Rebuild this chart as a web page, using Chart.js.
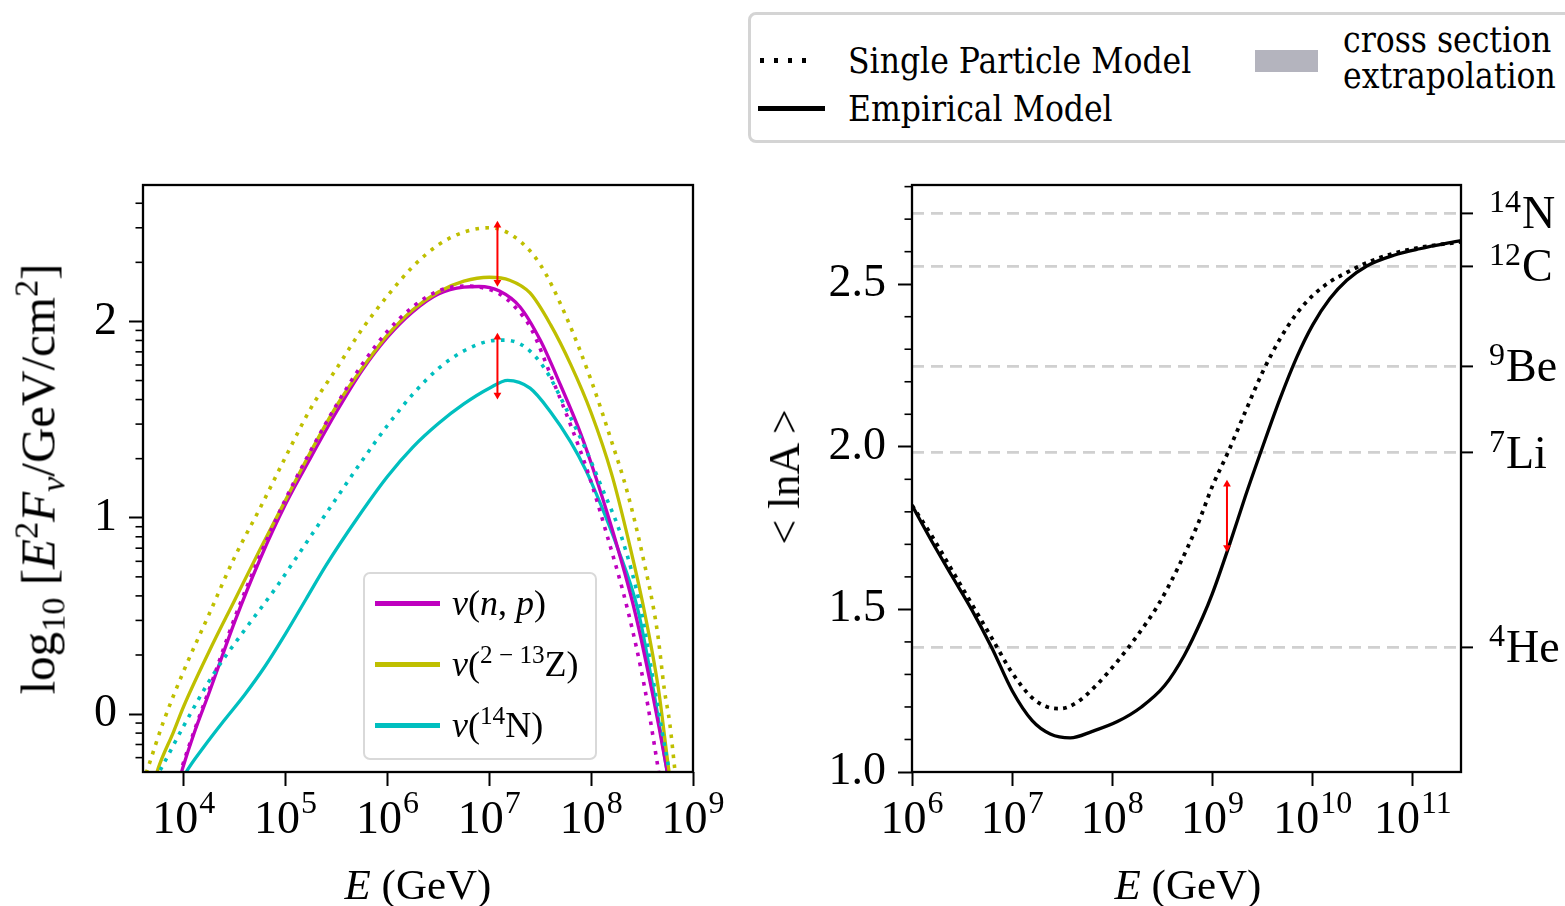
<!DOCTYPE html>
<html>
<head>
<meta charset="utf-8">
<title>Neutrino flux and mean log mass</title>
<script src="https://cdn.jsdelivr.net/npm/chart.js@4.4.1/dist/chart.umd.min.js"></script>
<style>
html,body{margin:0;padding:0;background:#fff;}
body{position:relative;width:1565px;height:906px;overflow:hidden;}
canvas{position:absolute;}
#cL{left:0;top:150px;}
#cR{left:740px;top:150px;}
.serif{font-family:"Liberation Serif","Times New Roman",serif;color:#000;}
.abs{position:absolute;white-space:nowrap;line-height:1;}
.ctr{transform:translate(-50%,-50%);}
.rot{transform:translate(-50%,-50%) rotate(-90deg);}
#legL{position:absolute;left:363px;top:572px;width:234px;height:188px;box-sizing:border-box;border:2px solid #d9d9d9;border-radius:7px;background:rgba(255,255,255,0.85);}
.sw{position:absolute;height:5px;}
.lt{position:absolute;font-size:36px;transform:translateY(-50%);white-space:nowrap;line-height:1;}
#legT{position:absolute;left:748px;top:12px;width:840px;height:131px;box-sizing:border-box;border:3px solid #d4d4d4;border-radius:8px;background:#fff;}
.tl{font-family:"DejaVu Serif Condensed","DejaVu Serif",serif;font-stretch:condensed;font-size:35px;position:absolute;white-space:nowrap;line-height:1;transform:translateY(-50%);color:#000;}
sup{font-size:0.7em;vertical-align:0.5em;line-height:0;}
sub{font-size:0.7em;vertical-align:-0.3em;line-height:0;}
</style>
</head>
<body>
<canvas id="cL" width="730" height="756"></canvas>
<canvas id="cR" width="825" height="756"></canvas>

<div id="legL"></div>

<div id="legT"></div>
<div class="abs" style="left:760px;top:58px;width:56px;height:4.5px;background:repeating-linear-gradient(to right,#000 0 4px,transparent 4px 14px);"></div>
<div class="tl" style="left:848px;top:61px;">Single Particle Model</div>
<div class="abs" style="left:758px;top:106px;width:67px;height:5px;background:#000;"></div>
<div class="tl" style="left:848px;top:109px;">Empirical Model</div>
<div class="abs" style="left:1255px;top:50px;width:63px;height:22px;background:#b4b4be;"></div>
<div class="tl" style="left:1343px;top:40px;">cross section</div>
<div class="tl" style="left:1343px;top:76px;">extrapolation</div>

<div class="abs serif ctr" style="left:418px;top:884px;font-size:43px;"><i>E</i> (GeV)</div>
<div class="abs serif ctr" style="left:1188px;top:884px;font-size:43px;"><i>E</i> (GeV)</div>
<div class="abs serif rot" style="left:38px;top:479px;font-size:49px;">log<sub>10</sub> [<i>E</i><sup>2</sup><i>F</i><sub><i>ν</i></sub>/GeV/cm<sup>2</sup>]</div>
<div class="abs serif rot" style="left:785px;top:477px;font-size:44px;">&lt; lnA &gt;</div>

<script>
// ---------------- LEFT PANEL: x = log10(E/GeV), y = log10(E^2 F_nu) ----------------
// nu(n,p)
const npEmpE = [3.96,3.99,4.1,4.25,4.5,4.75,5.0,5.25,5.5,5.75,6.0,6.25,6.5,6.75,6.9,7.1,7.3,7.5,7.7,7.9,8.05,8.25,8.43,8.6,8.74,8.78];
const npEmpF = [-0.33,-0.275,-0.1,0.11,0.47,0.79,1.07,1.31,1.54,1.75,1.92,2.05,2.14,2.175,2.178,2.155,2.075,1.905,1.675,1.425,1.20,0.865,0.52,0.11,-0.275,-0.4];
const npSpmE = [3.96,3.98,4.1,4.25,4.5,4.75,5.0,5.25,5.5,5.75,6.0,6.25,6.5,6.75,6.9,7.1,7.25,7.41,7.6,7.8,7.97,8.16,8.36,8.525,8.657,8.7];
const npSpmF = [-0.31,-0.275,-0.09,0.125,0.49,0.81,1.095,1.345,1.575,1.78,1.95,2.075,2.155,2.18,2.175,2.14,2.075,1.964,1.73,1.47,1.229,0.904,0.528,0.135,-0.275,-0.42];
// nu(2-13 Z)
const zEmpE = [3.72,3.75,3.9,4.0,4.25,4.5,4.75,5.0,5.25,5.5,5.75,6.0,6.25,6.5,6.75,7.0,7.2,7.4,7.6,7.8,8.0,8.2,8.36,8.52,8.66,8.76,8.8];
const zEmpF = [-0.33,-0.275,-0.09,0.04,0.32,0.58,0.84,1.09,1.34,1.57,1.76,1.93,2.06,2.15,2.205,2.225,2.21,2.145,1.985,1.78,1.535,1.225,0.90,0.53,0.13,-0.275,-0.42];
const zSpmE = [3.6,3.648,3.8,4.0,4.25,4.5,4.75,5.0,5.25,5.5,5.75,6.0,6.25,6.5,6.75,7.0,7.25,7.5,7.75,8.0,8.2,8.35,8.5,8.65,8.72,8.77,8.82,8.85];
const zSpmF = [-0.35,-0.275,-0.04,0.22,0.51,0.80,1.05,1.31,1.56,1.76,1.96,2.13,2.28,2.39,2.455,2.477,2.43,2.29,2.03,1.70,1.39,1.14,0.82,0.42,0.12,-0.04,-0.275,-0.42];
// nu(14 N)
const nEmpE = [4.0,4.03,4.2,4.4,4.6,4.8,5.0,5.2,5.4,5.7,6.0,6.25,6.5,6.75,7.0,7.18,7.4,7.6,7.8,7.95,8.1,8.25,8.46,8.607,8.74,8.78];
const nEmpF = [-0.32,-0.29,-0.165,-0.03,0.1,0.245,0.41,0.585,0.76,0.995,1.21,1.36,1.48,1.58,1.66,1.70,1.66,1.54,1.385,1.24,1.06,0.86,0.528,0.135,-0.275,-0.4];
const nSpmE = [3.72,3.78,4.0,4.3,4.6,4.9,5.2,5.5,5.75,6.0,6.25,6.5,6.75,7.0,7.15,7.35,7.55,7.75,7.95,8.1,8.3,8.49,8.62,8.7,8.77,8.8];
const nSpmF = [-0.33,-0.275,-0.06,0.21,0.43,0.64,0.87,1.10,1.29,1.47,1.63,1.76,1.85,1.90,1.905,1.87,1.755,1.56,1.345,1.16,0.90,0.528,0.14,-0.1,-0.3,-0.4];
// red arrows: E, upper end, lower end
const arrowsLeftE = [7.08, 7.08];
const arrowsLeftTop = [2.49, 1.92];
const arrowsLeftBot = [2.20, 1.625];

const leftXTicks = [4,5,6,7,8,9];
const leftXLabels = [['10','4'],['10','5'],['10','6'],['10','7'],['10','8'],['10','9']];
const leftYTicks = [0,1,2];
const leftYLabels = ['0','1','2'];
const seriesNames = ['<i>ν</i>(<i>n</i>, <i>p</i>)', '<i>ν</i>(<sup>2 − 13</sup>Z)', '<i>ν</i>(<sup>14</sup>N)'];

// ---------------- RIGHT PANEL: x = log10(E/GeV), y = <lnA> ----------------
const spmE = [6.0,6.2,6.4,6.6,6.8,7.0,7.2,7.35,7.48,7.65,7.85,8.05,8.25,8.45,8.65,8.85,9.0,9.15,9.33,9.5,9.67,9.84,10.0,10.17,10.34,10.54,10.81,11.07,11.48];
const spmA = [1.82,1.725,1.62,1.515,1.41,1.305,1.228,1.200,1.195,1.215,1.27,1.34,1.42,1.51,1.625,1.76,1.88,1.98,2.11,2.23,2.33,2.41,2.465,2.507,2.536,2.566,2.595,2.613,2.63];
const empE = [6.0,6.2,6.4,6.6,6.8,7.0,7.2,7.38,7.58,7.8,8.05,8.29,8.52,8.72,8.9,9.0,9.17,9.33,9.5,9.67,9.84,10.0,10.17,10.34,10.54,10.81,11.07,11.48];
const empA = [1.82,1.708,1.602,1.497,1.38,1.25,1.158,1.117,1.105,1.125,1.155,1.2,1.265,1.36,1.475,1.55,1.70,1.85,2.0,2.145,2.275,2.375,2.455,2.512,2.556,2.589,2.609,2.634];
const arrowRightE = [9.144];
const arrowRightTop = [1.885];
const arrowRightBot = [1.69];

const rightXTicks = [6,7,8,9,10,11];
const rightXLabels = [['10','6'],['10','7'],['10','8'],['10','9'],['10','10'],['10','11']];
const rightYTicks = [1.0,1.5,2.0,2.5];
const rightYLabels = ['1.0','1.5','2.0','2.5'];
const isoLevels = [2.718,2.555,2.248,1.982,1.383];
const isoLabels = [['14','N'],['12','C'],['9','Be'],['7','Li'],['4','He']];

// ---------------- helpers ----------------
const FAM = '"Liberation Serif","Times New Roman",serif';
const FONT = {family: FAM, size: 46};
const BASE_PX = 46, SUP_PX = 32;
const pts = (E, V) => E.map((x, i) => ({x, y: V[i]}));

function line(E, V, color, dotted, order, w) {
  return {data: pts(E, V), borderColor: color, backgroundColor: color, borderWidth: w || 3.3,
    borderDash: dotted ? dotted : [], borderCapStyle: 'butt', pointRadius: 0,
    cubicInterpolationMode: 'monotone', fill: false, clip: 0, order};
}
function arrows(E, top, bot, yID) {
  return E.map((x, i) => ({data: [{x, y: top[i]}, {x, y: bot[i]}], yAxisID: yID,
    borderColor: '#ff0000', backgroundColor: '#ff0000', borderWidth: 2,
    pointStyle: 'triangle', pointRadius: 4.5, pointRotation: [0, 180], pointBorderWidth: 0,
    fill: false, clip: false, order: 0}));
}

// frame + minor ticks
const frame = {
  id: 'frame',
  afterDatasetsDraw(chart, args, opts) {
    const {ctx, chartArea: a} = chart;
    ctx.save();
    ctx.strokeStyle = '#000';
    (opts.minor || []).forEach(m => {
      const s = chart.scales[m.axis];
      ctx.lineWidth = 1.6;
      m.values.forEach(v => {
        if (v <= s.min || v >= s.max) return;
        const y = s.getPixelForValue(v);
        ctx.beginPath(); ctx.moveTo(a.left, y); ctx.lineTo(a.left - m.len, y); ctx.stroke();
      });
    });
    ctx.lineWidth = 2.3;
    ctx.strokeRect(a.left, a.top, a.right - a.left, a.bottom - a.top);
    ctx.restore();
  }
};

// tick labels with real superscripts (10^n, isotope mass numbers)
const richLabels = {
  id: 'richLabels',
  afterDraw(chart, args, opts) {
    const {ctx, chartArea: a} = chart;
    ctx.save();
    ctx.fillStyle = '#000';
    ctx.textBaseline = 'alphabetic';
    ctx.textAlign = 'left';
    const bf = BASE_PX + 'px ' + FAM, sf = SUP_PX + 'px ' + FAM;
    (opts.sets || []).forEach(set => {
      const s = chart.scales[set.axis];
      set.values.forEach((v, i) => {
        if (set.side === 'bottom') {
          const [base, sup] = set.labels[i];
          ctx.font = bf; const wb = ctx.measureText(base).width;
          ctx.font = sf; const ws = ctx.measureText(sup).width;
          const x0 = s.getPixelForValue(v) - (wb + ws + 1) / 2;
          const y = a.bottom + set.offset;
          ctx.font = bf; ctx.fillText(base, x0, y);
          ctx.font = sf; ctx.fillText(sup, x0 + wb + 1, y - set.raise);
        } else {
          const [sup, base] = set.labels[i];
          ctx.font = sf; const ws = ctx.measureText(sup).width;
          const x0 = a.right + set.offset;
          const y = s.getPixelForValue(v) + set.drop;
          ctx.fillText(sup, x0, y - set.raise);
          ctx.font = bf; ctx.fillText(base, x0 + ws + 1, y);
        }
      });
    });
    ctx.restore();
  }
};

function axisGrid(len) {
  return {drawOnChartArea: false, drawTicks: true, tickLength: len, tickWidth: 2, tickColor: '#000'};
}

// minor tick positions (log decades on left panel, 0.1 steps on right panel)
const leftMinor = [];
[-1, 0, 1, 2].forEach(d => { for (let k = 2; k <= 9; k++) leftMinor.push(d + Math.log10(k)); });
const rightMinor = [];
for (let i = 11; i <= 28; i++) if (i % 5 !== 0) rightMinor.push(i / 10);

// ---------------- LEFT CHART ----------------
new Chart(document.getElementById('cL'), {
  type: 'line',
  data: {datasets: [
    line(npSpmE, npSpmF, '#bf00bf', [3.6, 6.4], 1, 3.6),
    line(zSpmE, zSpmF, '#bfbf00', [3.6, 6.4], 2, 3.6),
    line(nSpmE, nSpmF, '#00bfbf', [3.6, 6.4], 3, 3.6),
    line(zEmpE, zEmpF, '#bfbf00', null, 4),
    line(npEmpE, npEmpF, '#bf00bf', null, 5),
    line(nEmpE, nEmpF, '#00bfbf', null, 6),
    ...arrows(arrowsLeftE, arrowsLeftTop, arrowsLeftBot, 'y')
  ]},
  options: {
    responsive: false, animation: false, events: [],
    layout: {padding: {top: 35, right: 37, left: 0, bottom: 0}},
    plugins: {legend: {display: false}, tooltip: {enabled: false},
      frame: {minor: [{axis: 'y', values: leftMinor, len: 7.5}]},
      richLabels: {sets: [{axis: 'x', side: 'bottom', values: leftXTicks, labels: leftXLabels, offset: 61, raise: 20}]}},
    scales: {
      x: {type: 'linear', min: 3.6, max: 9.0,
        afterBuildTicks: s => { s.ticks = leftXTicks.map(v => ({value: v})); },
        afterFit: s => { s.height = 134; s.paddingLeft = 0; s.paddingRight = 0; },
        ticks: {display: false},
        grid: axisGrid(14), border: {display: false}},
      y: {type: 'linear', min: -0.295, max: 2.695,
        afterBuildTicks: s => { s.ticks = leftYTicks.map(v => ({value: v})); },
        afterFit: s => { s.width = 143; s.paddingTop = 0; s.paddingBottom = 0; },
        ticks: {callback: (v, i) => leftYLabels[i], font: FONT, color: '#000', padding: 12, autoSkip: false},
        grid: axisGrid(14), border: {display: false}}
    }
  },
  plugins: [frame, richLabels]
});

// ---------------- RIGHT CHART ----------------
new Chart(document.getElementById('cR'), {
  type: 'line',
  data: {datasets: [
    line(spmE, spmA, '#000000', [3.8, 5.2], 2, 3.8),
    line(empE, empA, '#000000', null, 1, 3.3),
    ...arrows(arrowRightE, arrowRightTop, arrowRightBot, 'y')
  ]},
  options: {
    responsive: false, animation: false, events: [],
    layout: {padding: {top: 35, right: 0, left: 0, bottom: 0}},
    plugins: {legend: {display: false}, tooltip: {enabled: false},
      frame: {minor: [{axis: 'y', values: rightMinor, len: 7.5}]},
      richLabels: {sets: [
        {axis: 'x', side: 'bottom', values: rightXTicks, labels: rightXLabels, offset: 61, raise: 20},
        {axis: 'iso', side: 'right', values: isoLevels, labels: isoLabels, offset: 28, drop: 15, raise: 16}
      ]}},
    scales: {
      x: {type: 'linear', min: 6.0, max: 11.48,
        afterBuildTicks: s => { s.ticks = rightXTicks.map(v => ({value: v})); },
        afterFit: s => { s.height = 134; s.paddingLeft = 0; s.paddingRight = 0; },
        ticks: {display: false},
        grid: axisGrid(14), border: {display: false}},
      y: {type: 'linear', position: 'left', min: 1.0, max: 2.805,
        afterBuildTicks: s => { s.ticks = rightYTicks.map(v => ({value: v})); },
        afterFit: s => { s.width = 172; s.paddingTop = 0; s.paddingBottom = 0; },
        ticks: {callback: (v, i) => rightYLabels[i], font: FONT, color: '#000', padding: 12, autoSkip: false},
        grid: axisGrid(14), border: {display: false}},
      iso: {type: 'linear', position: 'right', min: 1.0, max: 2.805,
        afterBuildTicks: s => { s.ticks = isoLevels.map(v => ({value: v})); },
        afterFit: s => { s.width = 104; s.paddingTop = 0; s.paddingBottom = 0; },
        ticks: {display: false},
        grid: {drawOnChartArea: true, color: '#d0d0d0', lineWidth: 2.8, drawTicks: true, tickLength: 12, tickWidth: 2, tickColor: '#000', tickBorderDash: []},
        border: {display: false, dash: [12, 7]}}
    }
  },
  plugins: [frame, richLabels]
});

// ---------------- legend (left panel) ----------------
const legColors = ['#bf00bf', '#bfbf00', '#00bfbf'];
const legBox = document.getElementById('legL');
seriesNames.forEach((name, i) => {
  const cy = 29 + i * 61;
  const sw = document.createElement('div');
  sw.className = 'sw'; sw.style.left = '10px'; sw.style.top = (cy - 2.5) + 'px';
  sw.style.width = '65px'; sw.style.background = legColors[i];
  legBox.appendChild(sw);
  const t = document.createElement('div');
  t.className = 'lt serif'; t.style.left = '87px'; t.style.top = cy + 'px';
  t.innerHTML = name;
  legBox.appendChild(t);
});
</script>
</body>
</html>
